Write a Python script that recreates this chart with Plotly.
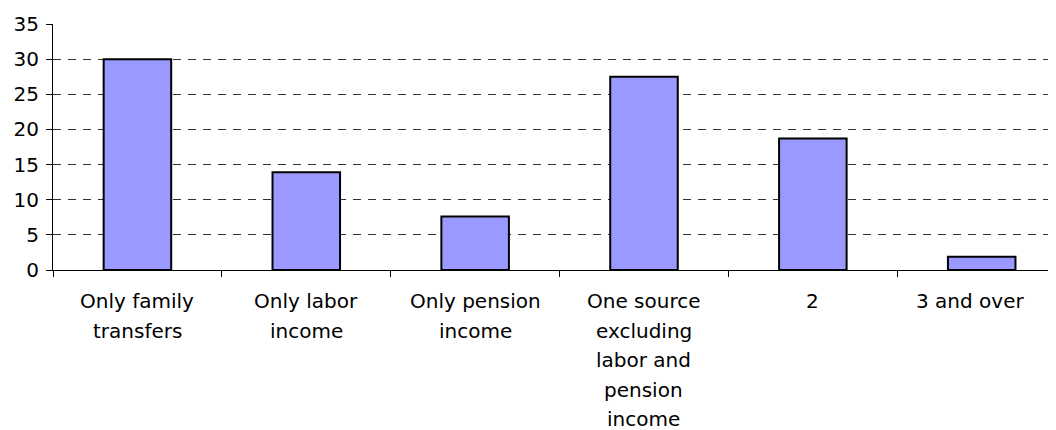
import plotly.graph_objects as go

categories = [
    "Only family transfers",
    "Only labor income",
    "Only pension income",
    "One source excluding labor and pension income",
    "2",
    "3 and over",
]
label_lines = [
    ["Only family", "transfers"],
    ["Only labor", "income"],
    ["Only pension", "income"],
    ["One source", "excluding", "labor and", "pension", "income"],
    ["2"],
    ["3 and over"],
]
values = [30.0, 13.9, 7.6, 27.5, 18.7, 1.9]
y_ticks = [0, 5, 10, 15, 20, 25, 30, 35]

FONT = "DejaVu Sans"
FSIZE = 20

fig = go.Figure()
fig.add_trace(go.Bar(
    x=categories,
    y=values,
    width=0.4,
    marker=dict(color="#9999FF", line=dict(color="#000000", width=2)),
    showlegend=False,
))

annotations = []
for idx, lines in enumerate(label_lines):
    for i, line in enumerate(lines):
        annotations.append(dict(
            x=idx, xref="x", y=0, yref="paper",
            text=line, showarrow=False,
            xanchor="center", yanchor="middle",
            yshift=-31 - 29.5 * i,
            xshift=-12 if idx == len(label_lines) - 1 else 0,
            font=dict(family=FONT, size=FSIZE, color="#000000"),
        ))

fig.update_layout(
    width=1048, height=422,
    margin=dict(l=45, r=0, t=16, b=160, autoexpand=False),
    paper_bgcolor="#ffffff",
    plot_bgcolor="#ffffff",
    font=dict(family=FONT, size=FSIZE, color="#000000"),
    annotations=annotations,
)
fig.update_xaxes(
    type="category",
    range=[-0.5, 5.44],
    showticklabels=False,
    tickson="boundaries",
    ticks="outside", ticklen=6, tickcolor="#000000", tickwidth=1,
    showline=True, linecolor="#000000", linewidth=1,
    showgrid=False, zeroline=False,
)
fig.update_yaxes(
    range=[0, 35],
    tickvals=y_ticks,
    ticktext=[str(v) for v in y_ticks],
    ticks="outside", ticklen=6, tickcolor="#000000", tickwidth=1,
    ticklabelstandoff=3,
    showline=True, linecolor="#000000", linewidth=1,
    showgrid=True, gridcolor="#333333", gridwidth=1, griddash="8px,7px",
    zeroline=False,
    tickfont=dict(family=FONT, size=FSIZE, color="#000000"),
)

fig.write_html("out.html")
